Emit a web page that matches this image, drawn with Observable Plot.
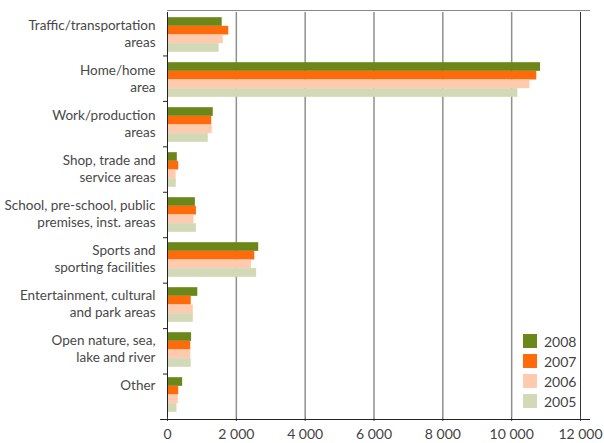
<!DOCTYPE html>
<html>
<head>
<meta charset="utf-8">
<script src="https://cdn.jsdelivr.net/npm/d3@7"></script>
<script src="https://cdn.jsdelivr.net/npm/@observablehq/plot@0.6"></script>
<style>
  html, body { margin: 0; padding: 0; background: #fff; }
  #wrap { position: relative; width: 604px; height: 443px; font-family: Lato, "Open Sans", sans-serif; }
  #legend { position: absolute; left: 523px; top: 331px; font-size: 14px; color: #444; }
  #legend .row { display: flex; align-items: center; height: 20px; }
  #legend .sw { width: 14px; height: 14px; margin-right: 7px; }
</style>
</head>
<body>
<div id="wrap"></div>
<script>
const categories = [
  "Traffic/transportation\nareas",
  "Home/home\narea",
  "Work/production\nareas",
  "Shop, trade and\nservice areas",
  "School, pre-school, public\npremises, inst. areas",
  "Sports and\nsporting facilities",
  "Entertainment, cultural\nand park areas",
  "Open nature, sea,\nlake and river",
  "Other"
];
const years = ["2008", "2007", "2006", "2005"];
const values2008 = [1590, 10840, 1330, 285, 810, 2650, 880, 700, 440];
const values2007 = [1780, 10730, 1285, 325, 840, 2535, 690, 675, 325];
const values2006 = [1620, 10530, 1300, 250, 770, 2440, 750, 675, 315];
const values2005 = [1500, 10180, 1185, 255, 840, 2590, 750, 690, 275];
const xTicks = [0, 2000, 4000, 6000, 8000, 10000, 12000];
const colors = ["#6b8719", "#ff6a0a", "#ffcaae", "#d3d9b7"];

(function () {
const series = {"2008": values2008, "2007": values2007, "2006": values2006, "2005": values2005};
const rows = [];
categories.forEach((c, i) => years.forEach(y => rows.push({category: c, year: y, value: series[y][i]})));

const W = 604, H = 443;
const chart = Plot.plot({
  width: W,
  height: H,
  marginLeft: 167,
  marginRight: 24,
  marginTop: 10,
  marginBottom: 24,
  style: {fontFamily: "Lato, 'Open Sans', sans-serif", fontSize: "14px", color: "#444", background: "#fff"},
  facet: {data: rows, y: "category"},
  fy: {domain: categories, padding: 0, axis: null},
  y: {domain: years, paddingInner: 0, paddingOuter: 0.6, round: false, axis: null},
  x: {domain: [0, 12000], ticks: xTicks, tickFormat: d => d3.format(",")(d).replace(/,/g, " "), tickSize: 4, tickPadding: 8, line: false, label: null},
  color: {domain: years, range: colors},
  marks: [
    Plot.ruleX(xTicks.filter(t => t > 0 && t < 12000), {stroke: "#8f8f8f", strokeWidth: 1.5}),
    Plot.ruleX([12000], {stroke: "#333", strokeWidth: 1}),
    Plot.barX(rows, {x: "value", y: "year", fill: "year"}),
    Plot.ruleX([0], {stroke: "#222", strokeWidth: 1}),
    Plot.text(rows, {filter: d => d.year === "2008", text: "category", frameAnchor: "left", textAnchor: "end", dx: -12, lineAnchor: "top", lineHeight: 1.25, dy: -17, fill: "#484848", fontSize: 13.5})
  ]
});

document.getElementById("wrap").appendChild(chart);

const svgEl = chart.tagName.toLowerCase() === "svg" ? chart : chart.querySelector("svg");
const svg = d3.select(svgEl);
const xs = chart.scale("x");
const xScale = d3.scaleLinear(xs.domain, xs.range);
let fyInfo = null;
try { fyInfo = chart.scale("fy"); } catch (e) {}
const fyRange = fyInfo && fyInfo.range ? fyInfo.range : [10, H - 24];
const fyBand = d3.scaleBand(categories, fyRange).padding(0);
const yTop = fyRange[0], yBottom = fyRange[1];
const x0 = xScale(0), x1 = xScale(12000);
const g = svg.append("g").attr("fill", "none");
g.append("line").attr("x1", x0).attr("x2", x1 + 10).attr("y1", yTop + 0.5).attr("y2", yTop + 0.5).attr("stroke", "#888");
g.append("line").attr("x1", x0 - 7).attr("x2", x1 + 10).attr("y1", yBottom + 0.5).attr("y2", yBottom + 0.5).attr("stroke", "#222");
categories.slice(1).forEach(c => {
  const y = fyBand(c);
  g.append("line").attr("x1", x0 - 4).attr("x2", x0 + 0.5).attr("y1", y + 0.5).attr("y2", y + 0.5).attr("stroke", "#222");
});

const legend = document.createElement("div");
legend.id = "legend";
years.forEach((y, i) => {
  const row = document.createElement("div");
  row.className = "row";
  const sw = document.createElement("div");
  sw.className = "sw";
  sw.style.background = colors[i];
  const t = document.createElement("span");
  t.textContent = y;
  row.appendChild(sw);
  row.appendChild(t);
  legend.appendChild(row);
});
document.getElementById("wrap").appendChild(legend);
})();
</script>
</body>
</html>
